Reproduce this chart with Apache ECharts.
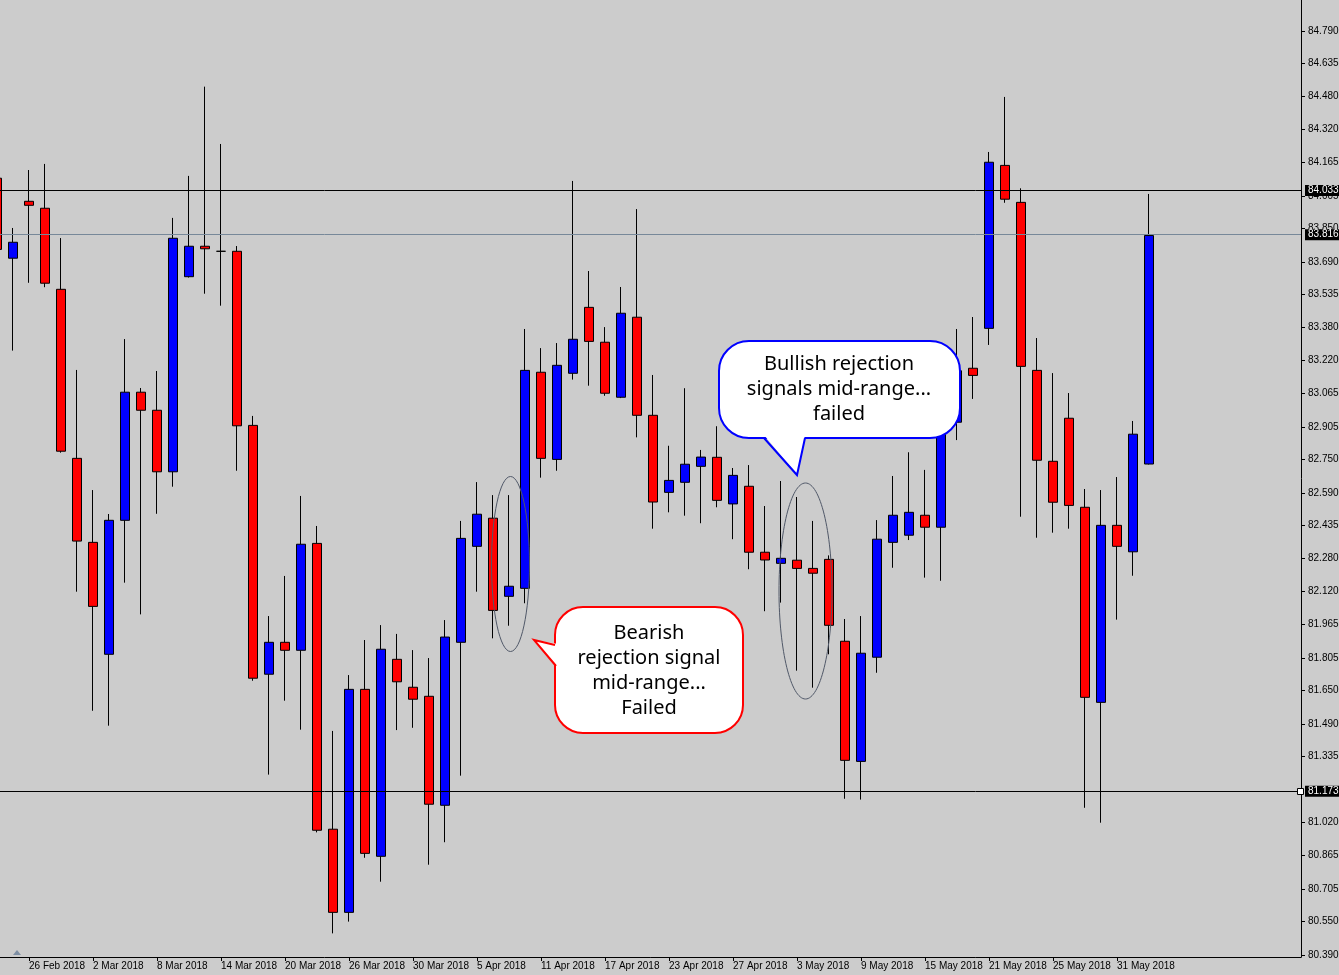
<!DOCTYPE html>
<html><head><meta charset="utf-8">
<script src="https://cdn.jsdelivr.net/npm/echarts@6/dist/echarts.min.js"></script>
<style>html,body{margin:0;padding:0;background:#cccccc;overflow:hidden}#c{width:1339px;height:975px;}</style>
</head><body><div id="c"></div>
<script>
// ---- data ----
const categories = [
 '22 Feb 2018','23 Feb 2018','26 Feb 2018','27 Feb 2018','28 Feb 2018',
 '1 Mar 2018','2 Mar 2018','5 Mar 2018','6 Mar 2018','7 Mar 2018','8 Mar 2018','9 Mar 2018',
 '12 Mar 2018','13 Mar 2018','14 Mar 2018','15 Mar 2018','16 Mar 2018',
 '19 Mar 2018','20 Mar 2018','21 Mar 2018','22 Mar 2018','23 Mar 2018',
 '26 Mar 2018','27 Mar 2018','28 Mar 2018','29 Mar 2018','30 Mar 2018',
 '2 Apr 2018','3 Apr 2018','4 Apr 2018','5 Apr 2018','6 Apr 2018',
 '9 Apr 2018','10 Apr 2018','11 Apr 2018','12 Apr 2018','13 Apr 2018',
 '16 Apr 2018','17 Apr 2018','18 Apr 2018','19 Apr 2018','20 Apr 2018',
 '23 Apr 2018','24 Apr 2018','25 Apr 2018','26 Apr 2018','27 Apr 2018',
 '30 Apr 2018','1 May 2018','2 May 2018','3 May 2018','4 May 2018',
 '7 May 2018','8 May 2018','9 May 2018','10 May 2018','11 May 2018',
 '14 May 2018','15 May 2018','16 May 2018','17 May 2018','18 May 2018',
 '21 May 2018','22 May 2018','23 May 2018','24 May 2018','25 May 2018',
 '28 May 2018','29 May 2018','30 May 2018','31 May 2018',
 '1 Jun 2018','4 Jun 2018'
];
const opens = [84.089,83.708,83.979,83.946,83.560,82.755,82.355,81.822,82.460,83.070,82.984,82.691,83.620,83.765,83.741,83.741,82.912,81.727,81.879,81.841,82.350,80.989,80.593,81.655,80.860,81.798,81.665,81.622,81.103,81.879,82.336,82.470,82.098,82.136,83.165,82.750,83.160,83.474,83.308,83.046,83.427,82.960,82.593,82.641,82.717,82.760,82.538,82.622,82.308,82.255,82.270,82.231,82.274,81.884,81.312,81.808,82.355,82.389,82.484,82.427,82.927,83.184,83.374,84.150,83.974,83.174,82.741,82.946,82.522,81.593,82.436,82.310,82.728];
const closes = [83.750,83.784,83.960,83.589,82.789,82.361,82.050,82.460,83.070,82.984,82.691,83.803,83.765,83.753,83.741,82.910,81.708,81.879,81.841,82.346,80.984,80.593,81.655,80.874,81.846,81.691,81.608,81.108,81.904,82.374,82.489,82.031,82.146,83.174,82.755,83.198,83.322,83.312,83.065,83.446,82.960,82.547,82.650,82.727,82.761,82.555,82.674,82.308,82.271,82.279,82.231,82.208,81.960,81.317,81.827,82.370,82.484,82.498,82.427,82.928,83.172,83.150,84.165,83.989,83.193,82.746,82.546,82.531,81.617,82.436,82.336,82.870,83.816];
const lows = [83.738,83.268,83.591,83.570,82.782,82.120,81.553,81.482,82.163,82.012,82.491,82.620,83.616,83.539,83.482,82.696,81.696,81.249,81.601,81.463,80.974,80.493,80.549,80.853,80.739,81.461,81.472,80.820,80.927,81.244,82.120,81.898,81.958,82.065,82.663,82.696,83.130,83.101,83.053,83.042,82.855,82.420,82.498,82.482,82.446,82.522,82.370,82.227,82.027,82.068,81.744,81.663,81.822,81.134,81.130,81.734,82.234,82.366,82.187,82.172,82.842,83.038,83.295,83.972,82.477,82.377,82.401,82.420,81.091,81.020,81.987,82.196,82.726];
const highs = [84.100,83.852,84.128,84.157,83.804,83.176,82.604,82.490,83.323,83.090,83.171,83.900,84.100,84.525,84.252,83.766,82.957,82.004,82.195,82.576,82.433,81.457,81.723,81.890,81.961,81.919,81.842,81.804,81.985,82.457,82.642,82.580,82.580,83.371,83.280,83.304,84.076,83.647,83.380,83.571,83.942,83.152,82.815,83.089,82.795,82.908,82.709,82.723,82.528,82.647,82.571,82.457,82.293,81.990,82.004,82.461,82.671,82.784,82.700,82.985,83.371,83.428,84.214,84.476,84.041,83.328,83.161,83.066,82.609,82.604,82.666,82.933,84.014];
const priceTickLabels = ['80.390','80.550','80.705','80.865','81.020','81.335','81.490','81.650','81.805','81.965','82.120','82.280','82.435','82.590','82.750','82.905','83.065','83.220','83.380','83.535','83.690','83.850','84.005','84.165','84.320','84.480','84.635','84.790'];
const levelValues = [84.033, 83.816, 81.173];
const levelLabels = ['84.033','83.816','81.173'];
const emptySlots = 9;

// ---- build ----
const xData = categories.concat(new Array(emptySlots).fill(''));
const ohlc = opens.map((o, i) => [o, closes[i], lows[i], highs[i]]);
const tickValues = priceTickLabels.map(Number);
const FONT = 'Liberation Sans';
const labelIdx = (index) => index % 4 === 2 && index < categories.length;

const chart = echarts.init(document.getElementById('c'), null, {renderer: 'canvas'});
chart.setOption({
  animation: false,
  backgroundColor: '#cccccc',
  grid: {left: -11, right: 38, top: 0, bottom: 18, containLabel: false, outerBoundsMode: 'none'},
  xAxis: {
    type: 'category', data: xData, boundaryGap: true,
    axisLine: {show: true, lineStyle: {color: '#000', width: 1}},
    axisTick: {show: true, interval: labelIdx, alignWithLabel: true, length: 4, lineStyle: {color: '#000'}},
    axisLabel: {interval: labelIdx, align: 'left', margin: 4, padding: [0, 0, 0, 0], color: '#000', fontFamily: FONT, fontSize: 10},
    splitLine: {show: false}
  },
  yAxis: {
    type: 'value', position: 'right', min: 80.3805, max: 84.9376,
    axisLine: {show: true, lineStyle: {color: '#000', width: 1}},
    axisTick: {show: true, length: 4, customValues: tickValues, lineStyle: {color: '#000'}},
    axisLabel: {
      show: true, customValues: tickValues, margin: 7, color: '#000', fontFamily: FONT, fontSize: 10,
      formatter: (v) => {
        let best = 0;
        tickValues.forEach((t, i) => { if (Math.abs(t - v) < Math.abs(tickValues[best] - v)) best = i; });
        return priceTickLabels[best];
      }
    },
    splitLine: {show: false}
  },
  series: [{
    type: 'candlestick',
    data: ohlc,
    barWidth: 10,
    itemStyle: {
      color: '#0000ff', color0: '#ff0000',
      borderColor: '#000000', borderColor0: '#000000', borderColorDoji: '#000000', borderWidth: 1
    },
    emphasis: {disabled: true},
    markLine: {
      silent: true, symbol: 'none', animation: false,
      data: levelValues.map((v, i) => ({
        yAxis: v,
        lineStyle: {color: i === 1 ? '#778899' : '#000000', width: 1, type: 'solid'},
        label: {
          show: true, position: 'end', distance: 4, formatter: levelLabels[i],
          color: '#ffffff', backgroundColor: '#000000', padding: [1, 3, 0, 3],
          fontFamily: FONT, fontSize: 10
        }
      }))
    }
  }],
  graphic: [
    {type: 'polygon', shape: {points: [[13, 955], [21, 955], [17, 950]]}, style: {fill: '#7d8ea3'}},
    {type: 'ellipse', shape: {cx: 510.5, cy: 564, rx: 19, ry: 87.5}, style: {fill: 'none', stroke: '#505868', lineWidth: 1}, z: 100},
    {type: 'ellipse', shape: {cx: 805.5, cy: 591, rx: 26.5, ry: 108}, style: {fill: 'none', stroke: '#505868', lineWidth: 1}, z: 100},
    // red bubble
    {type: 'rect', z: 101, shape: {x: 555, y: 607, width: 188, height: 126, r: 28}, style: {fill: '#ffffff', stroke: '#ff0000', lineWidth: 2}},
    {type: 'polygon', z: 102, shape: {points: [[534, 640], [558, 644], [558, 667]]}, style: {fill: '#ffffff', stroke: null}},
    {type: 'polyline', z: 103, shape: {points: [[555, 645], [534, 640], [556, 666]]}, style: {fill: null, stroke: '#ff0000', lineWidth: 2}},
    {type: 'text', z: 104, style: {text: 'Bearish\nrejection signal\nmid-range...\nFailed', x: 649, y: 670.5, align: 'center', verticalAlign: 'middle', font: '20px "Noto Sans"', lineHeight: 25, fill: '#000'}},
    // blue bubble
    {type: 'rect', z: 101, shape: {x: 719, y: 341, width: 241, height: 97, r: 30}, style: {fill: '#ffffff', stroke: '#0000ff', lineWidth: 2}},
    {type: 'polygon', z: 102, shape: {points: [[764, 435], [805, 435], [797, 475]]}, style: {fill: '#ffffff', stroke: null}},
    {type: 'polyline', z: 103, shape: {points: [[764, 438], [797, 475], [805, 438]]}, style: {fill: null, stroke: '#0000ff', lineWidth: 2}},
    {type: 'text', z: 104, style: {text: 'Bullish rejection\nsignals mid-range...\nfailed', x: 839, y: 389, align: 'center', verticalAlign: 'middle', font: '20px "Noto Sans"', lineHeight: 25, fill: '#000'}}
  ]
});

// small hollow square where the 81.173 level meets the price axis
const markY = chart.convertToPixel({yAxisIndex: 0}, levelValues[2]);
const axisX = chart.convertToPixel({xAxisIndex: 0}, xData.length - 1) + 8;
const opt = chart.getOption();
const g = opt.graphic && opt.graphic[0] && opt.graphic[0].elements ? opt.graphic[0].elements.length : 0;
chart.setOption({
  graphic: [{
    id: 'levelMarker', type: 'rect', z: 110,
    shape: {x: Math.round(axisX) - 3.5, y: Math.round(markY) - 2.5, width: 6, height: 6},
    style: {fill: '#ffffff', stroke: '#000000', lineWidth: 1}
  }]
});
</script></body></html>
